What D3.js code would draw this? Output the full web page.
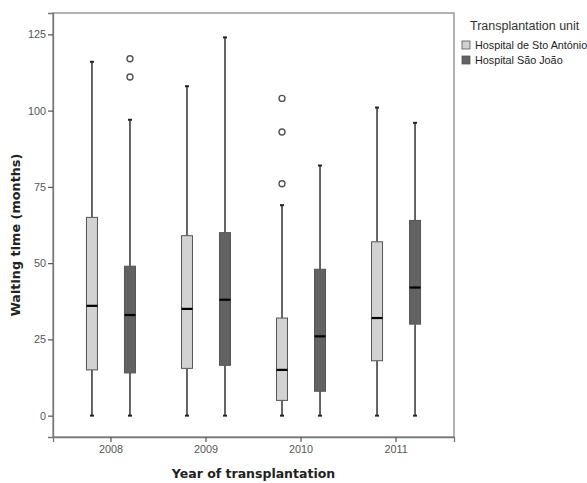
<!DOCTYPE html>
<html><head><meta charset="utf-8">
<script src="https://cdn.jsdelivr.net/npm/d3@7"></script>
<style>body{margin:0;background:#fff;font-family:Arial, "Liberation Sans", sans-serif;}</style>
</head><body>
<svg id="c" width="587" height="483"></svg>
<script>
const years = ["2008", "2009", "2010", "2011"];
const units = ["Hospital de Sto António", "Hospital São João"];
// [min, q1, median, q3, max]
const antonioStats = [[0, 15, 36, 65, 116], [0, 15.5, 35, 59, 108], [0, 5, 15, 32, 69], [0, 18, 32, 57, 101]];
const saoJoaoStats = [[0, 14, 33, 49, 97], [0, 16.5, 38, 60, 124], [0, 8, 26, 48, 82], [0, 30, 42, 64, 96]];
const antonioOutliers = [[], [], [104, 93, 76], []];
const saoJoaoOutliers = [[117, 111], [], [], []];
const yTicks = [0, 25, 50, 75, 100, 125];
const unitColors = ["#d2d2d2", "#626262"];

const svg = d3.select("#c");
const L = 53, R = 454, T = 13, B = 437;
const x = d3.scaleBand().domain(years).range([L, R]).paddingInner(0).paddingOuter(0.11);
const x1 = d3.scaleBand().domain(units).range([0, x.bandwidth()]).paddingInner(0).paddingOuter(0.25);
const y = d3.scaleLinear().domain([-7, 132]).range([B, T]);
const color = d3.scaleOrdinal().domain(units).range(unitColors);

// frame
svg.append("rect").attr("x", L).attr("y", T).attr("width", R - L).attr("height", B - T)
  .attr("fill", "none").attr("stroke", "#8a8a8a").attr("stroke-width", 1.3);

// axes
const yAxis = svg.append("g").attr("transform", `translate(${L},0)`)
  .call(d3.axisLeft(y).tickValues(yTicks).tickSize(5).tickPadding(2));
const xAxis = svg.append("g").attr("transform", `translate(0,${B})`)
  .call(d3.axisBottom(x).tickSize(5).tickPadding(3));
[yAxis, xAxis].forEach(a => {
  a.attr("color", "#555");
  a.select(".domain").attr("stroke", "#777").attr("stroke-width", 1.3);
  a.selectAll(".tick line").attr("stroke", "#555").attr("stroke-width", 1.2);
  a.selectAll(".tick text").attr("fill", "#555").attr("font-size", 10.8)
    .attr("font-family", "Arial, 'Liberation Sans', sans-serif");
});

const series = [
  {unit: units[0], stats: antonioStats, out: antonioOutliers},
  {unit: units[1], stats: saoJoaoStats, out: saoJoaoOutliers}
];
const bw = 11, cap = 4;
series.forEach(s => {
  years.forEach((yr, i) => {
    const [mn, q1, med, q3, mx] = s.stats[i];
    const cx = x(yr) + x1(s.unit) + x1.bandwidth() / 2;
    const g = svg.append("g");
    g.append("line").attr("x1", cx).attr("x2", cx).attr("y1", y(mx)).attr("y2", y(q3))
      .attr("stroke", "#333").attr("stroke-width", 1.5);
    g.append("line").attr("x1", cx).attr("x2", cx).attr("y1", y(q1)).attr("y2", y(mn))
      .attr("stroke", "#333").attr("stroke-width", 1.5);
    [mn, mx].forEach(v => g.append("line").attr("x1", cx - cap / 2).attr("x2", cx + cap / 2)
      .attr("y1", y(v)).attr("y2", y(v)).attr("stroke", "#222").attr("stroke-width", 2));
    g.append("rect").attr("x", cx - bw / 2).attr("width", bw).attr("y", y(q3)).attr("height", y(q1) - y(q3))
      .attr("fill", color(s.unit)).attr("stroke", "#555").attr("stroke-width", 1);
    g.append("line").attr("x1", cx - bw / 2).attr("x2", cx + bw / 2).attr("y1", y(med)).attr("y2", y(med))
      .attr("stroke", "#000").attr("stroke-width", 2.2);
    s.out[i].forEach(v => g.append("circle").attr("cx", cx).attr("cy", y(v)).attr("r", 3)
      .attr("fill", "none").attr("stroke", "#555").attr("stroke-width", 1.4));
  });
});

// axis titles
const titleFont = "'DejaVu Sans', Verdana, sans-serif";
svg.append("text").attr("x", (L + R) / 2).attr("y", 478).attr("text-anchor", "middle")
  .attr("font-family", titleFont).attr("font-size", 12.5).attr("font-weight", "bold").attr("fill", "#222")
  .text("Year of transplantation");
svg.append("text").attr("transform", `translate(20,235) rotate(-90)`).attr("text-anchor", "middle")
  .attr("font-family", titleFont).attr("font-size", 12.8).attr("font-weight", "bold").attr("fill", "#222")
  .text("Waiting time (months)");

// legend
const lg = svg.append("g");
lg.append("text").attr("x", 470).attr("y", 30).attr("font-size", 12.5).attr("fill", "#333").text("Transplantation unit");
units.forEach((u, i) => {
  lg.append("rect").attr("x", 462).attr("y", 41 + i * 15).attr("width", 8).attr("height", 8)
    .attr("fill", color(u)).attr("stroke", "#555").attr("stroke-width", 0.8);
  lg.append("text").attr("x", 475).attr("y", 48.5 + i * 15).attr("font-size", 10.8).attr("fill", "#222").text(u);
});
</script>
</body></html>
